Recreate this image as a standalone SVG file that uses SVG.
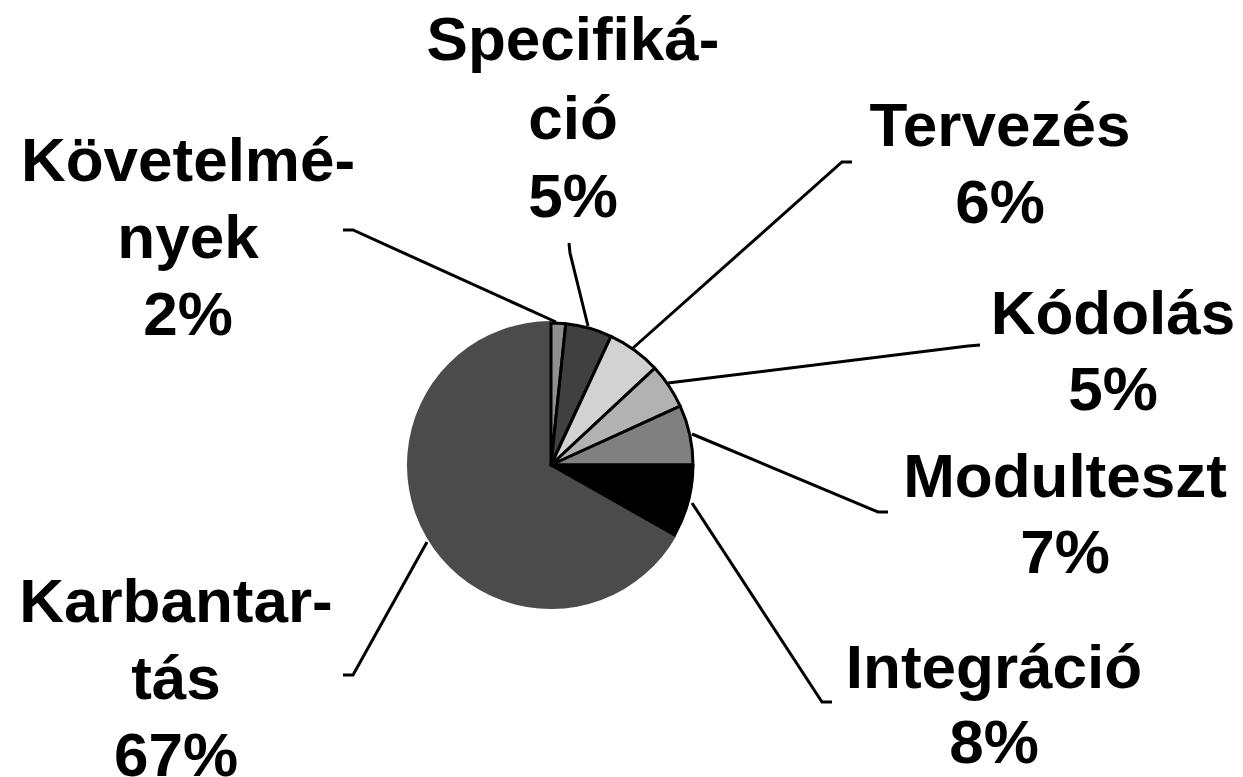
<svg xmlns="http://www.w3.org/2000/svg" width="1243" height="777" viewBox="0 0 1243 777">
<style>
.lbl{font-family:"Liberation Sans",Arial,sans-serif;font-weight:bold;font-size:62px;fill:#000;text-anchor:middle}
.sl{stroke:#000;stroke-width:3;stroke-linejoin:round}
.ld{fill:none;stroke:#000;stroke-width:3}
</style>
<rect width="1243" height="777" fill="#fff"/>
<g id="pie">
<path id="karbantartas" d="M551,465 L676.3,535.9 A144,144 0 1 1 551,321 Z" fill="#4b4b4b"/>
<path id="kovetelmenyek" class="sl" d="M551,465 L551,323 A142,142 0 0 1 565.8,323.8 Z" fill="#8f8f8f"/>
<path id="specifikacio" class="sl" d="M551,465 L565.8,323.8 A142,142 0 0 1 611,336.3 Z" fill="#404040"/>
<path id="tervezes" class="sl" d="M551,465 L611,336.3 A142,142 0 0 1 654.9,368.2 Z" fill="#d2d2d2"/>
<path id="kodolas" class="sl" d="M551,465 L654.9,368.2 A142,142 0 0 1 680.2,406.2 Z" fill="#b2b2b2"/>
<path id="modulteszt" class="sl" d="M551,465 L680.2,406.2 A142,142 0 0 1 693,465 Z" fill="#808080"/>
<path id="integracio" class="sl" d="M551,465 L693,465 A142,142 0 0 1 674.6,534.9 Z" fill="#000"/>
</g>
<g id="connectors">
<polyline class="ld" points="343,230 353,230 556,322"/>
<polyline class="ld" points="569,243 570,253 588,326"/>
<polyline class="ld" points="852,162 842,162 633,348"/>
<polyline class="ld" points="980,345 968,346 668,383"/>
<polyline class="ld" points="692,434 878,512 888,512"/>
<polyline class="ld" points="692,503 822,702 832,702"/>
<polyline class="ld" points="427,542 353,675 343,675"/>
</g>
<g id="label-kovetelmenyek"><text class="lbl" x="188" y="181">Követelmé-</text><text class="lbl" x="188" y="258">nyek</text><text class="lbl" x="188" y="335">2%</text></g>
<g id="label-specifikacio"><text class="lbl" x="573" y="60">Specifiká-</text><text class="lbl" x="573" y="139">ció</text><text class="lbl" x="573" y="217">5%</text></g>
<g id="label-tervezes"><text class="lbl" x="1000" y="146">Tervezés</text><text class="lbl" x="1000" y="223">6%</text></g>
<g id="label-kodolas"><text class="lbl" x="1113" y="334">Kódolás</text><text class="lbl" x="1113" y="410">5%</text></g>
<g id="label-modulteszt"><text class="lbl" x="1065" y="497">Modulteszt</text><text class="lbl" x="1065" y="573">7%</text></g>
<g id="label-integracio"><text class="lbl" x="994" y="688">Integráció</text><text class="lbl" x="994" y="763">8%</text></g>
<g id="label-karbantartas"><text class="lbl" x="176" y="622">Karbantar-</text><text class="lbl" x="176" y="699">tás</text><text class="lbl" x="176" y="776">67%</text></g>
</svg>
